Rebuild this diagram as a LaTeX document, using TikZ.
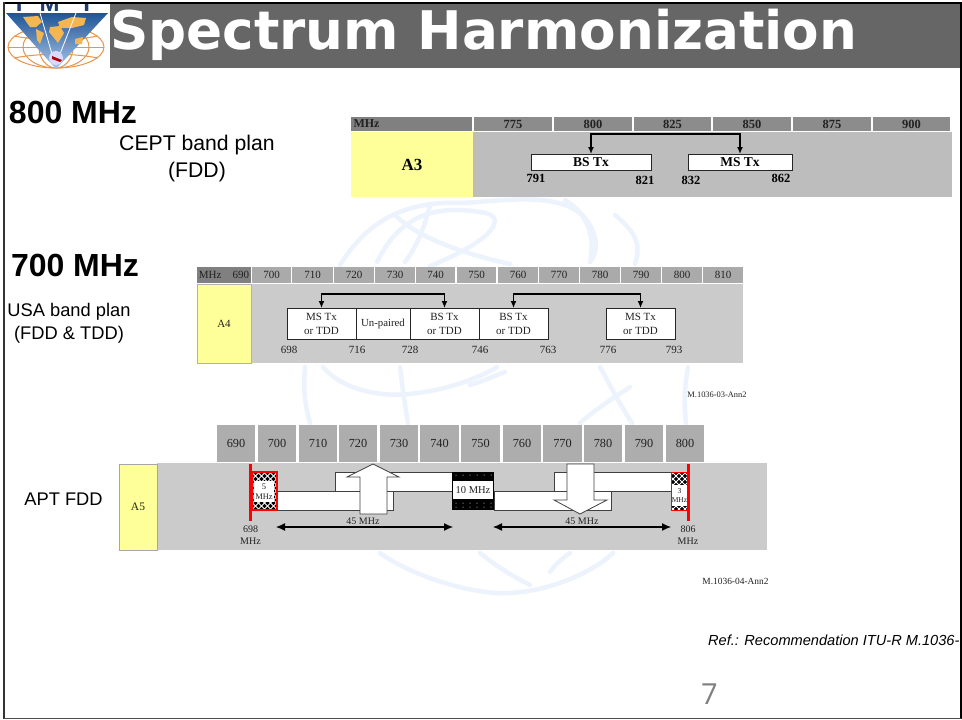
\documentclass[tikz,border=0pt]{standalone}
\usepackage{fontspec}
\setmainfont{Liberation Serif}
\newfontfamily\arialf{Liberation Sans}
\newfontfamily\titlef{DejaVu Sans}
\newfontfamily\numf{Open Sans}
\usetikzlibrary{calc,arrows.meta}
\definecolor{hdrA}{HTML}{8C8C8C}
\definecolor{hdrB}{HTML}{AAAAAA}
\definecolor{hdrC}{HTML}{ADADAD}
\definecolor{hdrM}{HTML}{808080}
\definecolor{bodyA}{HTML}{BDBDBD}
\definecolor{bodyB}{HTML}{CBCBCB}
\definecolor{yel}{HTML}{FFFF99}
\definecolor{wm}{HTML}{EDF3FC}
\definecolor{txt}{HTML}{222222}
\definecolor{lgo}{HTML}{E8954A}
\definecolor{conti}{HTML}{F3B650}
\definecolor{lgtop}{HTML}{1F5596}
\definecolor{lgbot}{HTML}{A9C6EA}
\definecolor{navy}{HTML}{1F3B70}
\newcommand{\fsz}[1]{\fontsize{#1}{#1}\selectfont}
% \bx{name}{x1}{y1}{x2}{y2}{style}{text}
\newcommand{\bx}[7]{%
  \pgfmathsetmacro\bxw{#4-#2}\pgfmathsetmacro\bxh{#5-#3}%
  \pgfmathsetmacro\bxx{(#2+#4)/2}\pgfmathsetmacro\bxy{(#3+#5)/2}%
  \node[cellbox,#6,minimum width=\bxw pt,minimum height=\bxh pt] (#1) at (\bxx,\bxy) {#7};}
% lattice of white lines inside a named node
\newcommand{\lattice}[1]{%
  \begin{scope}
  \clip (#1.south west) rectangle (#1.north east);
  \foreach \k in {-60,-54,...,60}{
    \draw[white,line width=0.9pt] ($(#1.center)+(\k-30,-30)$) -- ++(60,60);
    \draw[white,line width=0.9pt] ($(#1.center)+(\k-30,30)$) -- ++(60,-60);
  }
  \end{scope}}
\tikzset{
  cellbox/.style={rectangle,inner sep=0pt,outer sep=0pt,align=center,text=txt},
  hA/.style={fill=hdrA,font=\bfseries\fsz{12.5}},
  hB/.style={fill=hdrB,font=\fsz{11}},
  hC/.style={fill=hdrC,font=\fsz{12.3}},
  bandbox/.style={fill=white,draw=black!85,line width=1pt},
  lab/.style={inner sep=0pt,outer sep=0pt,text=txt,font=\fsz{11}},
  laba/.style={lab,font=\bfseries\fsz{12.5},text=black},
  side/.style={inner sep=0pt,outer sep=0pt,text=black,font=\arialf\fsz{#1},align=center},
  head/.style={inner sep=0pt,outer sep=0pt,text=black,font=\arialf\bfseries\fsz{32}},
  link/.style={draw=black,line width=1.7pt,{Latex[length=7pt,width=6pt]}-{Latex[length=7pt,width=6pt]}},
  dim/.style={draw=black,line width=1.1pt,{Latex[length=9pt,width=8pt]}-{Latex[length=9pt,width=8pt]}},
  whitebar/.style={fill=white,draw=black!75,line width=1pt},
  bigarrow/.style={fill=white,draw=black!75,line width=0.8pt},
  wmline/.style={draw=wm,line width=4.5pt,line cap=round},
  redline/.style={draw=red,line width=3pt}
}
\begin{document}
\begin{tikzpicture}[x=1pt,y=-1pt]
\useasboundingbox (0,0) rectangle (962,720);
\fill[white] (0,0) rectangle (962,720);
% watermark globe
\draw[wmline] (340,265) .. controls (365,225) and (400,200) .. (463,203) .. controls (510,200) and (570,190) .. (590,225) .. controls (600,245) and (595,255) .. (590,262);
\draw[wmline] (377,262) .. controls (400,215) and (435,205) .. (480,212) .. controls (510,215) and (495,240) .. (430,266);
\draw[wmline] (430,205) .. controls (425,225) and (418,245) .. (405,262);
\draw[wmline] (395,215) .. controls (420,240) and (470,255) .. (510,264);
\draw[wmline] (565,200) .. controls (590,215) and (595,240) .. (590,262);
\draw[wmline] (615,215) .. controls (640,235) and (640,250) .. (635,264);
\draw[wmline] (305,367) .. controls (303,390) and (305,405) .. (310,423);
\draw[wmline] (323,367) .. controls (345,393) and (390,398) .. (417,393) .. controls (445,390) and (480,378) .. (497,367);
\draw[wmline] (400,367) .. controls (402,385) and (405,405) .. (408,423);
\draw[wmline] (600,367) .. controls (610,385) and (620,405) .. (632,423);
\draw[wmline] (630,387) .. controls (610,400) and (595,410) .. (580,423);
\draw[wmline] (688,367) .. controls (684,390) and (684,405) .. (686,423);
\draw[wmline] (505,372) .. controls (490,378) and (480,382) .. (470,385);
\draw[wmline] (380,553) .. controls (400,568) and (450,590) .. (497,593) .. controls (540,595) and (590,575) .. (613,553);
\draw[wmline] (480,553) .. controls (495,565) and (510,575) .. (530,585);
\draw[wmline] (570,553) .. controls (560,560) and (555,565) .. (550,572);
% title band
\fill[white] (5,4) rectangle (110,68);
\fill[black!60] (110,4) rectangle (962,68);
\node[inner sep=0pt,outer sep=0pt,anchor=base west,text=white,font=\titlef\bfseries\fsz{53.2}] (title) at (110,49) {Spectrum Harmonization};
% logo
\begin{scope}
\clip (5,4) rectangle (110,69);
\draw[lgo,line width=1pt] (56,47) ellipse (48 and 21);
\draw[lgo,line width=1pt] (56,47) ellipse (33 and 21);
\draw[lgo,line width=1pt] (56,47) ellipse (17 and 21);
\draw[lgo,line width=1pt] (8,47) -- (104,47);
\draw[lgo,line width=1pt] (14,36) .. controls (40,41) and (72,41) .. (98,36);
\draw[lgo,line width=1pt] (14,58) .. controls (40,53) and (72,53) .. (98,58);
\shade[top color=lgtop,bottom color=lgbot,draw=none] (6,13) -- (108,13) -- (56,69) -- cycle;
\fill[conti] (23,17) -- (38,16) -- (42,22) -- (36,27) -- (30,27) -- (27,23) -- cycle;
\fill[conti] (36,29) -- (44,33) -- (40,44) -- (37,40) -- cycle;
\fill[conti] (58,22) -- (72,17) -- (86,18) -- (84,25) -- (72,28) -- (60,28) -- cycle;
\fill[conti] (50,27) -- (60,26) -- (64,33) -- (58,43) -- (54,38) -- (49,32) -- cycle;
\fill[conti] (75,39) -- (83,37) -- (82,44) -- (75,44) -- cycle;
\draw[white,line width=0.8pt] (40,13) -- (52,54);
\draw[white,line width=0.8pt] (76,13) -- (60,54);
\fill[blue!15!white] (56,58) circle (7);
\fill[red!70!black] (52,56) -- (62,60) -- (60,62) -- (52,59) -- cycle;
\node[inner sep=0pt,anchor=base,text=navy,font=\arialf\bfseries\fsz{24}] (imt) at (55,12) {I\hspace{17pt}M\hspace{20pt}T};
\end{scope}
% section heads
\node[head,anchor=base west] (h800) at (9,123) {800 MHz};
\node[side=21.2,anchor=center] (cept) at (197,158.5) {CEPT band plan\\[6pt](FDD)};
\node[head,anchor=base west] (h700) at (11,276) {700 MHz};
\node[side=18.3,anchor=center] (usa) at (69,323) {USA band plan\\[5pt](FDD \& TDD)};
\node[side=18.3,anchor=center] (apt) at (63.5,499) {APT FDD};
% A3
\bx{a3m}{351}{117}{472}{131}{fill=hdrM,font=\bfseries\fsz{12}}{\hspace*{-90pt}MHz}
\bx{a1}{474}{117}{552}{131}{hA}{775}
\bx{a2}{554}{117}{632}{131}{hA}{800}
\bx{a3}{634}{117}{711}{131}{hA}{825}
\bx{a4}{713}{117}{791}{131}{hA}{850}
\bx{a5}{793}{117}{871}{131}{hA}{875}
\bx{a6}{873}{117}{950}{131}{hA}{900}
\bx{a3y}{351}{132}{473}{197}{fill=yel,font=\bfseries\fsz{17},text=black}{A3}
\bx{a3b}{473}{132}{952}{197}{fill=bodyA}{}
\bx{bs3}{531}{154}{651}{170}{bandbox,font=\bfseries\fsz{13.5},text=black}{BS Tx}
\bx{ms3}{688}{154}{792}{170}{bandbox,font=\bfseries\fsz{13.5},text=black}{MS Tx}
\draw[link] (bs3.north) -- ++(0,-20) -| (ms3.north);
\node[laba] (l791) at (536,178) {791};
\node[laba] (l821) at (645,180) {821};
\node[laba] (l832) at (691,180) {832};
\node[laba] (l862) at (781,178) {862};
% A4
\bx{bm}{197}{267}{251}{283}{fill=hdrM,font=\fsz{11}}{MHz\hspace{11pt}690}
\bx{b1}{252}{267}{291}{283}{hB}{700}
\bx{b2}{292}{267}{333}{283}{hB}{710}
\bx{b3}{334}{267}{374}{283}{hB}{720}
\bx{b4}{375}{267}{415}{283}{hB}{730}
\bx{b5}{416}{267}{455}{283}{hB}{740}
\bx{b6}{457}{267}{496}{283}{hB}{750}
\bx{b7}{498}{267}{538}{283}{hB}{760}
\bx{b8}{539}{267}{579}{283}{hB}{770}
\bx{b9}{580}{267}{620}{283}{hB}{780}
\bx{b10}{621}{267}{661}{283}{hB}{790}
\bx{b11}{662}{267}{702}{283}{hB}{800}
\bx{b12}{703}{267}{743}{283}{hB}{810}
\bx{a4y}{197}{284}{251}{363}{fill=yel,font=\fsz{11},draw=black!30,line width=0.6pt}{A4}
\bx{a4b}{252}{284}{743}{363}{fill=bodyB}{}
\bx{ms4a}{287}{308}{356}{339}{bandbox,font=\fsz{11}}{MS Tx\\[3pt]or TDD}
\bx{up4}{356}{308}{410}{339}{bandbox,font=\fsz{10.8}}{Un-paired}
\bx{bs4a}{410}{308}{479}{339}{bandbox,font=\fsz{11}}{BS Tx\\[3pt]or TDD}
\bx{bs4b}{479}{308}{548}{339}{bandbox,font=\fsz{11}}{BS Tx\\[3pt]or TDD}
\bx{ms4b}{606}{308}{675}{339}{bandbox,font=\fsz{11}}{MS Tx\\[3pt]or TDD}
\draw[link] (ms4a.north) -- ++(0,-14) -| (bs4a.north);
\draw[link] (bs4b.north) -- ++(0,-14) -| (ms4b.north);
\node[lab] (l698) at (289,350) {698};
\node[lab] (l716) at (357,350) {716};
\node[lab] (l728) at (410,350) {728};
\node[lab] (l746) at (480,350) {746};
\node[lab] (l763) at (548,350) {763};
\node[lab] (l776) at (608,350) {776};
\node[lab] (l793) at (674,350) {793};
\node[lab,font=\fsz{8.4}] (fig3) at (717,395) {M.1036-03-Ann2};
% A5
\bx{c0}{217}{425}{255}{462}{hC}{690}
\bx{c1}{258}{425}{296}{462}{hC}{700}
\bx{c2}{299}{425}{337}{462}{hC}{710}
\bx{c3}{339}{425}{377}{462}{hC}{720}
\bx{c4}{380}{425}{418}{462}{hC}{730}
\bx{c5}{420}{425}{459}{462}{hC}{740}
\bx{c6}{461}{425}{500}{462}{hC}{750}
\bx{c7}{503}{425}{541}{462}{hC}{760}
\bx{c8}{543}{425}{582}{462}{hC}{770}
\bx{c9}{584}{425}{622}{462}{hC}{780}
\bx{c10}{625}{425}{663}{462}{hC}{790}
\bx{c11}{666}{425}{704}{462}{hC}{800}
\bx{a5b}{157}{463}{767}{550}{fill=bodyB}{}
\bx{a5y}{119}{464}{157}{550}{fill=yel,draw=black!35,line width=0.8pt,font=\fsz{11.5}}{A5}
\bx{lowL}{277}{491}{393}{510}{whitebar}{}
\bx{upL}{335}{472}{453}{491}{whitebar}{}
\bx{lowR}{494}{491}{611}{510}{whitebar}{}
\bx{upR}{554}{472}{671}{491}{whitebar}{}
\draw[bigarrow] (373,464) -- (399,477) -- (387,477) -- (387,514) -- (360,514) -- (360,477) -- (347,477) -- cycle;
\draw[bigarrow] (567,464) -- (594,464) -- (594,500) -- (607,500) -- (580,514) -- (554,500) -- (567,500) -- cycle;
% guard blocks
\bx{g5}{252}{472}{277}{510}{fill=black}{}
\lattice{g5}
\draw[red,line width=1.1pt] (g5.south west) rectangle (g5.north east);
\bx{g5t}{254}{481}{274}{502}{fill=white,font=\fsz{8.5}}{5\\[2pt]MHz}
\bx{g10}{452}{472}{494}{510}{fill=black}{}
\foreach \dy in {475,503,507}{\foreach \dx in {456,463,...,492}{\fill[white] (\dx,\dy) circle (0.5);}}
\bx{g10t}{453}{481}{493}{499}{fill=white,font=\fsz{10.5}}{10 MHz}
\bx{g3}{671}{472}{687}{510}{fill=black}{}
\lattice{g3}
\draw[red,line width=1pt] (g3.south west) rectangle (g3.north east);
\bx{g3t}{672}{485}{687}{506}{fill=white,font=\fsz{7.5}}{3\\[1pt]MHz}
\coordinate (redLa) at (250.5,464); \coordinate (redLb) at (250.5,521);
\coordinate (redRa) at (688,464); \coordinate (redRb) at (688,521);
\draw[redline] (redLa) -- (redLb);
\draw[redline] (redRa) -- (redRb);
\coordinate (dLa) at (276,527); \coordinate (dLb) at (453,527);
\coordinate (dRa) at (493,527); \coordinate (dRb) at (671,527);
\draw[dim] (dLa) -- (dLb);
\draw[dim] (dRa) -- (dRb);
\node[lab,font=\fsz{10}] (d45a) at (363,521) {45 MHz};
\node[lab,font=\fsz{10}] (d45b) at (582,521) {45 MHz};
\node[lab,font=\fsz{10},align=center] (l698m) at (250.5,535) {698\\[1.5pt]MHz};
\node[lab,font=\fsz{10},align=center] (l806m) at (688,535) {806\\[1.5pt]MHz};
\node[lab,font=\fsz{9.4}] (fig4) at (735.5,581) {M.1036-04-Ann2};
% footer
\node[inner sep=0pt,anchor=base west,font=\arialf\itshape\fsz{14.6},text=black] (refn) at (708,645.5) {Ref.: Recommendation ITU-R M.1036-};
\node[inner sep=0pt,anchor=base west,font=\numf\fsz{29},text=black!50] (pagen) at (701,704) {7};
% slide frame
\draw[black,line width=2pt] (4,3) -- (960.5,3) -- (960.5,718.5);
\draw[black!80,line width=2pt] (4,2) -- (4,719);
\draw[black!70,line width=1.3pt] (4,718.5) -- (961,718.5);
\end{tikzpicture}
\end{document}
